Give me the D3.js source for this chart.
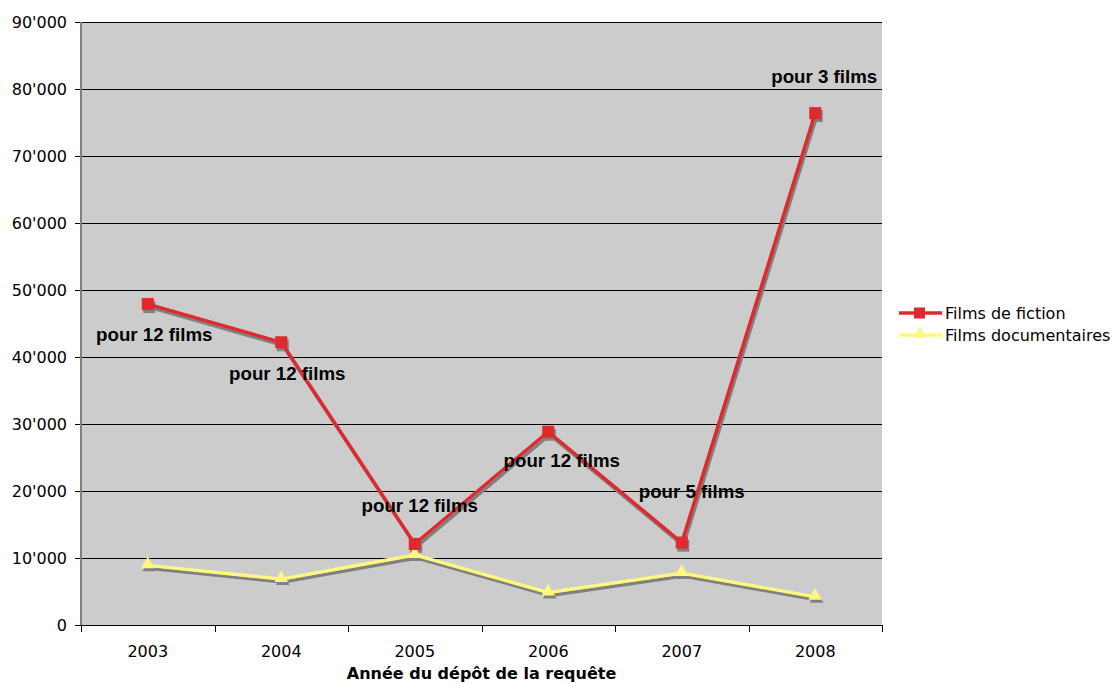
<!DOCTYPE html>
<html>
<head>
<meta charset="utf-8">
<script src="https://cdn.jsdelivr.net/npm/d3@7"></script>
<style>
  html, body { margin: 0; padding: 0; background: #fff; }
  svg { display: block; }
</style>
</head>
<body>
<svg id="chart" width="1113" height="684"></svg>
<script>
// ---- data ----
const years = ["2003", "2004", "2005", "2006", "2007", "2008"];
const fiction = [47900, 42200, 12100, 28850, 12300, 76400];
const documentaires = [8900, 6850, 10450, 4850, 7750, 4200];
const fictionLabels = ["pour 12 films", "pour 12 films", "pour 12 films", "pour 12 films", "pour 5 films", "pour 3 films"];
const yTicks = [0, 10000, 20000, 30000, 40000, 50000, 60000, 70000, 80000, 90000];
const seriesNames = ["Films de fiction", "Films documentaires"];
const xTitle = "Année du dépôt de la requête";

// ---- layout (kept out of data) ----
const labelOffsets = [[6.5, 37], [6, 38], [5, -32], [13.5, 35], [10, -45], [9, -30]];
const plot = { left: 81, right: 882, top: 22, bottom: 625 };
const colors = { fiction: "#E0282F", doc: "#FFF780", shadow: "#808080" };

const svg = d3.select("#chart");
const x = d3.scaleBand().domain(years).range([plot.left, plot.right]);
const y = d3.scaleLinear().domain([0, 90000]).range([plot.bottom, plot.top]);
const loc = d3.formatLocale({ decimal: ".", thousands: "'", grouping: [3], currency: ["", ""] });
const fmt = loc.format(",");

// plot background
svg.append("rect")
  .attr("x", plot.left).attr("y", plot.top)
  .attr("width", plot.right - plot.left).attr("height", plot.bottom - plot.top)
  .attr("fill", "#CCCCCC");

// gridlines + y axis
const yAxis = d3.axisLeft(y).tickValues(yTicks).tickFormat(fmt).tickSize(6).tickPadding(8);
const gy = svg.append("g").attr("transform", `translate(${plot.left},0)`).call(yAxis);
gy.select(".domain").remove();
gy.selectAll(".tick line").attr("stroke", "#000").attr("x2", -6).attr("shape-rendering", "crispEdges");
gy.selectAll(".tick text").attr("font-family", "'DejaVu Sans', Verdana, sans-serif").attr("font-size", 16).attr("fill", "#000");
svg.append("g").selectAll("line").data(yTicks.filter(d => d > 0)).join("line")
  .attr("x1", plot.left).attr("x2", plot.right)
  .attr("y1", d => Math.round(y(d)) + 0.5).attr("y2", d => Math.round(y(d)) + 0.5)
  .attr("stroke", "#000").attr("stroke-width", 1);

// left axis line (grey)
svg.append("line")
  .attr("x1", plot.left).attr("x2", plot.left)
  .attr("y1", plot.top).attr("y2", plot.bottom)
  .attr("stroke", "#808080").attr("stroke-width", 2);

// x axis labels
const xAxis = d3.axisBottom(x).tickSize(0).tickPadding(21);
const gx = svg.append("g").attr("transform", `translate(0,${plot.bottom})`).call(xAxis);
gx.select(".domain").remove();
gx.selectAll(".tick text").attr("font-family", "'DejaVu Sans', Verdana, sans-serif").attr("font-size", 16).attr("fill", "#000");

// x axis line and boundary ticks
svg.append("line")
  .attr("x1", plot.left - 6).attr("x2", plot.right)
  .attr("y1", plot.bottom + 0.5).attr("y2", plot.bottom + 0.5)
  .attr("stroke", "#000");
const edges = years.map(d => x(d)).concat([x(years[years.length - 1]) + x.bandwidth()]);
svg.append("g").selectAll("line").data(edges).join("line")
  .attr("x1", d => Math.round(d) + 0.5).attr("x2", d => Math.round(d) + 0.5)
  .attr("y1", plot.bottom).attr("y2", plot.bottom + 7)
  .attr("stroke", "#000");

// x title
svg.append("text")
  .attr("x", (plot.left + plot.right) / 2).attr("y", 679)
  .attr("text-anchor", "middle")
  .attr("font-family", "'DejaVu Sans', Verdana, sans-serif")
  .attr("font-weight", "bold").attr("font-size", 16)
  .text(xTitle);

const cx = d => x(d) + x.bandwidth() / 2;
const line = d3.line().x((d, i) => cx(years[i])).y(d => y(d));
const tri = d3.symbol().type(d3.symbolTriangle).size(80);

function drawSeries(vals, color, marker, dx, dy) {
  const g = svg.append("g").attr("transform", `translate(${dx},${dy})`);
  g.append("path").datum(vals).attr("d", line)
    .attr("fill", "none").attr("stroke", color).attr("stroke-width", 3.4).attr("stroke-linejoin", "round");
  if (marker === "square") {
    g.selectAll("rect").data(vals).join("rect")
      .attr("x", (d, i) => cx(years[i]) - 6).attr("y", d => y(d) - 6)
      .attr("width", 12).attr("height", 12).attr("fill", color);
  } else {
    g.selectAll("path.m").data(vals).join("path").attr("class", "m")
      .attr("transform", (d, i) => `translate(${cx(years[i])},${y(d) - 1})`)
      .attr("d", tri).attr("fill", color);
  }
}
// shadows
drawSeries(documentaires, colors.shadow, "tri", 1.5, 3);
drawSeries(fiction, colors.shadow, "square", 1.5, 3);
// series
drawSeries(documentaires, colors.doc, "tri", 0, 0);
drawSeries(fiction, colors.fiction, "square", 0, 0);

// data labels
svg.append("g").selectAll("text").data(fiction).join("text")
  .attr("x", (d, i) => cx(years[i]) + labelOffsets[i][0])
  .attr("y", (d, i) => y(d) + labelOffsets[i][1])
  .attr("text-anchor", "middle")
  .attr("font-family", "'Liberation Sans', Arial, sans-serif")
  .attr("font-weight", "bold").attr("font-size", 18.7).attr("fill", "#000")
  .text((d, i) => fictionLabels[i]);

// legend
const legend = svg.append("g");
const legendRows = [
  { name: seriesNames[0], color: colors.fiction, marker: "square", y: 313 },
  { name: seriesNames[1], color: colors.doc, marker: "tri", y: 335 }
];
legendRows.forEach(r => {
  legend.append("line").attr("x1", 899).attr("x2", 942).attr("y1", r.y).attr("y2", r.y)
    .attr("stroke", r.color).attr("stroke-width", 3.4);
  if (r.marker === "square") {
    legend.append("rect").attr("x", 914).attr("y", r.y - 5.5).attr("width", 11).attr("height", 11).attr("fill", r.color);
  } else {
    legend.append("path").attr("d", tri).attr("transform", `translate(920,${r.y - 1})`).attr("fill", r.color);
  }
  legend.append("text").attr("x", 945).attr("y", r.y + 5.5)
    .attr("font-family", "'DejaVu Sans', Verdana, sans-serif").attr("font-size", 16).attr("fill", "#000")
    .text(r.name);
});
</script>
</body>
</html>
